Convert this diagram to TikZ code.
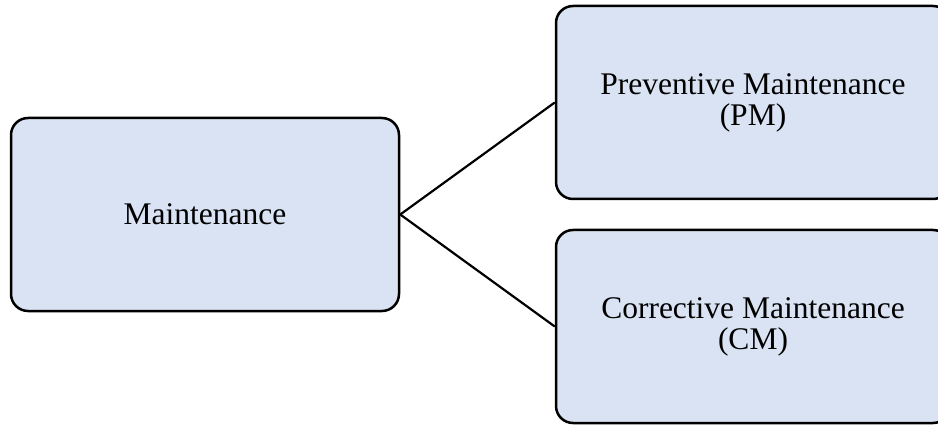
\documentclass[tikz,border=0pt]{standalone}
\usepackage{fontspec}
\setmainfont{Liberation Serif}
\definecolor{boxfill}{HTML}{DAE3F3}
\begin{document}
\begin{tikzpicture}[x=1pt,y=-1pt,
  box/.style={draw=black, fill=boxfill, line width=2.5pt, rounded corners=17pt,
    minimum width=388pt, minimum height=193pt, inner sep=0pt, align=center,
    font=\fontsize{31.5}{31}\selectfont},
  link/.style={draw=black, line width=2.2pt}]
\clip (0,0) rectangle (938,425);
\fill[white] (0,0) rectangle (938,425);
\node[box] (m) at (205,214.5) {Maintenance};
\node[box, minimum width=394pt] (pm) at (753,102.5) {Preventive Maintenance\\(PM)};
\node[box, minimum width=394pt] (cm) at (753,326.5) {Corrective Maintenance\\(CM)};
\draw[link] (m.east) -- (pm.west);
\draw[link] (m.east) -- (cm.west);
\end{tikzpicture}
\end{document}
